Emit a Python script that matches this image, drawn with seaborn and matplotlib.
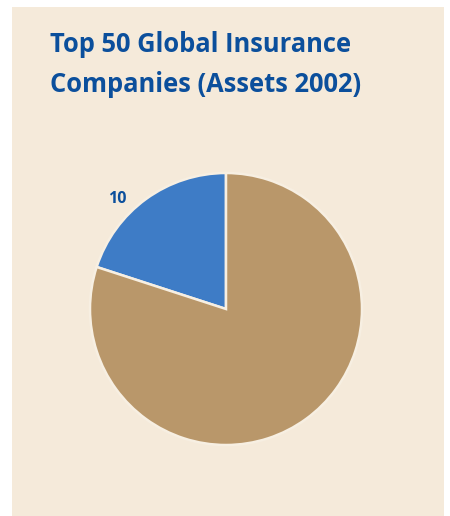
import matplotlib
matplotlib.use("Agg")
import matplotlib.pyplot as plt
import seaborn as sns
from matplotlib.patches import Rectangle

# Data
segments = ["Top 10", "Others"]
companies = [10, 40]
title_lines = ["Top 50 Global Insurance", "Companies (Assets 2002)"]
label_text = "10"

sns.set_theme(style="white")
plt.rcParams["font.family"] = ["Open Sans", "DejaVu Sans"]

W, H = 450, 516
fig = plt.figure(figsize=(W / 100, H / 100), dpi=100)
fig.patch.set_facecolor("white")

# beige panel, kept behind the pie axes
fig.patches.append(Rectangle((12 / W, 0), 432 / W, (H - 7) / H,
                             transform=fig.transFigure, facecolor="#f5eada",
                             edgecolor="none", zorder=-5))

blue = "#3e7cc6"
tan = "#b9976a"
title_color = "#0b4f9c"

fig.text(50 / W, 1 - 52 / H, title_lines[0], fontsize=18.4, fontweight="bold",
         color=title_color, va="baseline", ha="left")
fig.text(50 / W, 1 - 92 / H, title_lines[1], fontsize=18.4, fontweight="bold",
         color=title_color, va="baseline", ha="left")

cx, cy, r = 226, 309, 136
ax = fig.add_axes([(cx - r) / W, (H - cy - r) / H, 2 * r / W, 2 * r / H])
ax.set_zorder(2)
ax.set_facecolor("none")
ax.pie(companies, colors=[blue, tan], startangle=90, counterclock=True,
       wedgeprops=dict(edgecolor="#f7efe2", linewidth=1.8))
ax.set_xlim(-1, 1)
ax.set_ylim(-1, 1)
ax.axis("off")

ax.text(-0.80, 0.81, label_text, fontsize=11.5, fontweight="bold",
        color=title_color, ha="center", va="center")

fig.savefig("out.png", dpi=100)
